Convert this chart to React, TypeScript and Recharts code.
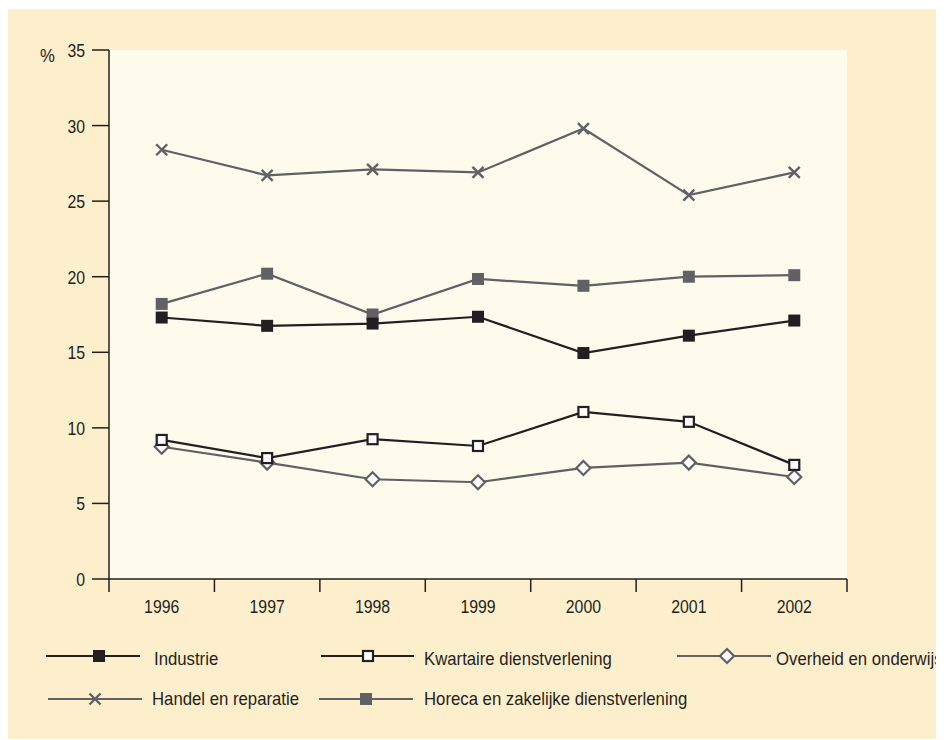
import React from 'react';
import {
  LineChart,
  Line,
  XAxis,
  YAxis,
  CartesianGrid,
  Legend
} from 'recharts';

const YEARS = ['1996', '1997', '1998', '1999', '2000', '2001', '2002'];
const INDUSTRIE = [17.3, 16.75, 16.9, 17.35, 14.95, 16.1, 17.1];
const KWARTAIRE = [9.2, 8.0, 9.25, 8.8, 11.05, 10.4, 7.55];
const OVERHEID = [8.75, 7.7, 6.6, 6.4, 7.35, 7.7, 6.75];
const HANDEL = [28.4, 26.7, 27.1, 26.9, 29.8, 25.4, 26.9];
const HORECA = [18.2, 20.2, 17.5, 19.85, 19.4, 20.0, 20.1];
const Y_TICKS = [0, 5, 10, 15, 20, 25, 30, 35];

const DARK = '#231f20';
const GRAY = '#616165';
const FONT = '"Liberation Sans", Arial, sans-serif';

const data = YEARS.map((year, i) => ({
  idx: i,
  year,
  industrie: INDUSTRIE[i],
  kwartaire: KWARTAIRE[i],
  overheid: OVERHEID[i],
  handel: HANDEL[i],
  horeca: HORECA[i]
}));

// label ticks at year centres, tick marks on the band boundaries
const xTicks = [
  ...YEARS.map((_, i) => i - 0.5),
  YEARS.length - 0.5,
  ...YEARS.map((_, i) => i)
].sort((a, b) => a - b);

// no condensed font installed, so squeeze a regular one
const NarrowText = ({ x, y, anchor = 'start', sx = 0.93, size = 18, children }: any) => (
  <text
    transform={`translate(${x},${y}) scale(${sx},1)`}
    textAnchor={anchor}
    fill={DARK}
    fontSize={size}
    fontFamily={FONT}
  >
    {children}
  </text>
);

type MarkerKind = 'square' | 'openSquare' | 'diamond' | 'cross' | 'graySquare';

const Marker = ({ kind, cx, cy }: { kind: MarkerKind; cx: number; cy: number }) => {
  switch (kind) {
    case 'square':
      return <rect x={cx - 6} y={cy - 6} width={12} height={12} fill={DARK} />;
    case 'graySquare':
      return <rect x={cx - 6} y={cy - 6} width={12} height={12} fill={GRAY} />;
    case 'openSquare':
      return <rect x={cx - 5} y={cy - 5} width={10} height={10} fill="#fff" stroke={DARK} strokeWidth={2.2} />;
    case 'diamond':
      return (
        <path
          d={`M${cx},${cy - 7}L${cx + 7},${cy}L${cx},${cy + 7}L${cx - 7},${cy}Z`}
          fill="#fff"
          stroke={GRAY}
          strokeWidth={2.2}
        />
      );
    case 'cross':
      return (
        <path
          d={`M${cx - 5.5},${cy - 5.5}L${cx + 5.5},${cy + 5.5}M${cx - 5.5},${cy + 5.5}L${cx + 5.5},${cy - 5.5}`}
          stroke={GRAY}
          strokeWidth={2.4}
          fill="none"
        />
      );
  }
};

const dotFor = (kind: MarkerKind) => (props: any) => (
  <g key={`${kind}-${props.index}`}>
    <Marker kind={kind} cx={props.cx} cy={props.cy} />
  </g>
);

const SERIES: { key: string; name: string; color: string; kind: MarkerKind }[] = [
  { key: 'handel', name: 'Handel en reparatie', color: GRAY, kind: 'cross' },
  { key: 'horeca', name: 'Horeca en zakelijke dienstverlening', color: GRAY, kind: 'graySquare' },
  { key: 'overheid', name: 'Overheid en onderwijs', color: GRAY, kind: 'diamond' },
  { key: 'industrie', name: 'Industrie', color: DARK, kind: 'square' },
  { key: 'kwartaire', name: 'Kwartaire dienstverlening', color: DARK, kind: 'openSquare' }
];

// legend layout: [key, line start, line end, marker x, text x, row]
const LEGEND_LAYOUT: [string, number, number, number, number, number][] = [
  ['industrie', 38, 132, 91, 146, 0],
  ['kwartaire', 313, 406, 360, 416, 0],
  ['overheid', 669, 763, 719, 768, 0],
  ['handel', 40, 134, 87, 144, 1],
  ['horeca', 311, 405, 358, 416, 1]
];
const LEGEND_ROWS = [
  { line: 17, text: 25.5 },
  { line: 60, text: 65.5 }
];

const XTick = (props: any) => {
  const { x, y, payload } = props;
  const v = payload.value as number;
  if (!Number.isInteger(v)) {
    return <line x1={x} x2={x} y1={y - 13} y2={y} stroke={DARK} strokeWidth={1.5} />;
  }
  return (
    <NarrowText x={x} y={y + 21} anchor="middle" sx={0.88}>
      {YEARS[v]}
    </NarrowText>
  );
};

const YTick = (props: any) => {
  const { x, y, payload } = props;
  return (
    <NarrowText x={x} y={y + 7} anchor="end" sx={0.88}>
      {payload.value}
    </NarrowText>
  );
};

const LegendContent = () => (
  <svg width={936} height={90}>
    {LEGEND_LAYOUT.map(([key, x0, x1, mx, tx, row]) => {
      const s = SERIES.find(d => d.key === key)!;
      const r = LEGEND_ROWS[row];
      return (
        <g key={key}>
          <line x1={x0} x2={x1} y1={r.line} y2={r.line} stroke={s.color} strokeWidth={2.2} />
          <Marker kind={s.kind} cx={mx} cy={r.line} />
          <NarrowText x={tx} y={r.text}>
            {s.name}
          </NarrowText>
        </g>
      );
    })}
  </svg>
);

export default function App() {
  return (
    <div style={{ width: 936, height: 731, background: '#fdeecc', position: 'relative', top: 1 }}>
      <LineChart width={936} height={731} data={data} margin={{ top: 41, right: 97, bottom: 121, left: 0 }}>
        <CartesianGrid horizontal={false} vertical={false} fill="#fefaec" />
        <XAxis
          dataKey="idx"
          type="number"
          domain={[-0.5, YEARS.length - 0.5]}
          ticks={xTicks}
          interval={0}
          tickLine={false}
          tickSize={13}
          tickMargin={0}
          height={40}
          axisLine={{ stroke: DARK, strokeWidth: 1.5 }}
          tick={<XTick />}
        />
        <YAxis
          domain={[0, 35]}
          ticks={Y_TICKS}
          interval={0}
          width={101}
          tickSize={17}
          tickMargin={7}
          axisLine={{ stroke: DARK, strokeWidth: 1.5 }}
          tickLine={{ stroke: DARK, strokeWidth: 1.5 }}
          tick={<YTick />}
          label={{
            content: (p: any) => (
              <NarrowText x={p.viewBox.x + 32} y={p.viewBox.y + 12}>
                %
              </NarrowText>
            )
          }}
        />
        {SERIES.map(s => (
          <Line
            key={s.key}
            dataKey={s.key}
            name={s.name}
            stroke={s.color}
            strokeWidth={2.2}
            dot={dotFor(s.kind)}
            activeDot={false}
            isAnimationActive={false}
          />
        ))}
        <Legend
          layout="horizontal"
          verticalAlign="middle"
          align="center"
          wrapperStyle={{ left: '0px', top: 630, width: 936 }}
          content={<LegendContent />}
        />
      </LineChart>
    </div>
  );
}
